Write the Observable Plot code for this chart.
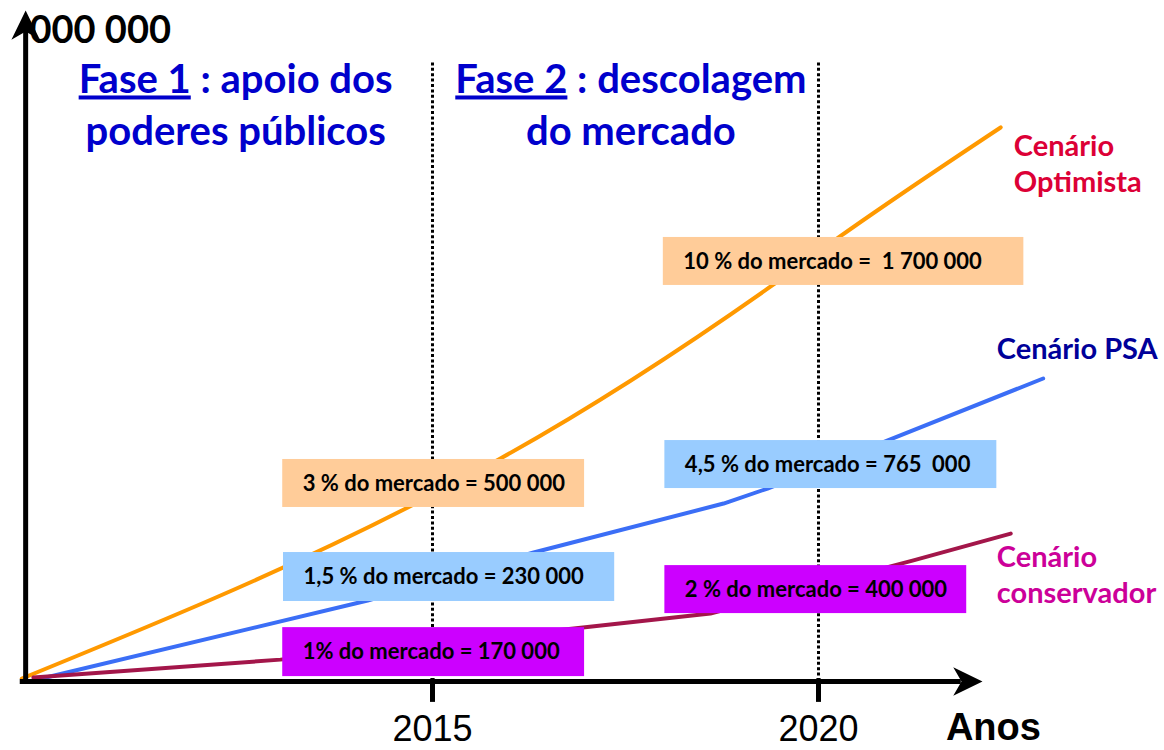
<!DOCTYPE html>
<html><head><meta charset="utf-8">
<script src="https://cdn.jsdelivr.net/npm/d3@7"></script>
<script src="https://cdn.jsdelivr.net/npm/@observablehq/plot@0.6"></script>
<style>body{margin:0;background:#fff} svg text{white-space:pre}</style>
</head><body><div id="chart"></div>
<script>
// ---- data (years, vehicles in thousands) ----
const scenarios = ["Cenário Optimista", "Cenário PSA", "Cenário conservador"];
const lineColors = ["#ff9900", "#3b6ef6", "#a3164a"];
const lineCurves = ["monotone-x", "linear", "linear"];
const optYears = [2009.68, 2014.68, 2015.88, 2019.40, 2020.26, 2022.36];
const optValues = [9, 533, 683, 1213, 1360, 1697];
const psaYears = [2009.83, 2014.16, 2016.31, 2018.77, 2019.34, 2020.89, 2022.91];
const psaValues = [3, 248, 395, 545, 591, 738, 928];
const consYears = [2009.83, 2013.03, 2016.83, 2018.60, 2021.23, 2022.49];
const consValues = [12, 67, 162, 208, 371, 453];

// market-share annotation boxes
const boxTexts = ["3 % do mercado = 500 000", "1,5 % do mercado = 230 000", "1% do mercado = 170 000",
                  "10 % do mercado =  1 700 000", "4,5 % do mercado = 765  000", "2 % do mercado = 400 000"];
const boxFills = ["#ffcc99", "#99ccff", "#cc00ff", "#ffcc99", "#99ccff", "#cc00ff"];
const boxX1 = [2013.06, 2013.07, 2013.06, 2017.99, 2018.01, 2018.01];
const boxX2 = [2016.97, 2017.36, 2016.97, 2022.66, 2022.31, 2021.92];
const boxY1 = [533, 245, 15, 1213, 591, 208];
const boxY2 = [680, 395, 165, 1360, 738, 355];

// phase titles
const titleLines = ["Fase 1 : apoio dos", "poderes públicos", "Fase 2 : descolagem", "do mercado"];
const titleX = [2012.45, 2012.45, 2017.57, 2017.57];
const titleY = [1801, 1642, 1801, 1642];

// scenario labels
const scenLabels = ["Cenário\nOptimista", "Cenário PSA", "Cenário\nconservador"];
const scenLabelColors = ["#dc0036", "#000099", "#cc0099"];
const scenLabelX = [2022.53, 2022.31, 2022.31];
const scenLabelY = [1498, 989, 239];

const xTicks = [2015, 2020];
const yTopLabel = "000 000";
const xTitle = "Anos";

// ---- build tables ----
const series = [[optYears, optValues], [psaYears, psaValues], [consYears, consValues]];
const lineData = series.map(([ys, vs], i) => ys.map((year, j) => ({scenario: scenarios[i], color: lineColors[i], year, value: vs[j]})));
const boxes = boxTexts.map((text, i) => ({text, fill: boxFills[i], x1: boxX1[i], x2: boxX2[i], y1: boxY1[i], y2: boxY2[i], ym: (boxY1[i] + boxY2[i]) / 2}));
const titles = titleLines.map((text, i) => ({text, x: titleX[i], y: titleY[i]}));
const scen = scenLabels.map((text, i) => ({text, color: scenLabelColors[i], x: scenLabelX[i], y: scenLabelY[i]}));

const xAxisStart = 2009.66, xAxisEnd = 2021.85, yAxisX = 2009.73, yAxisTop = 2000;
const arrows = [{x: 2021.93, y: 0, rot: 90}, {x: yAxisX, y: 2009, rot: 0}];

// stealth arrow-head symbol (pointing up)
const stealth = {
  draw(ctx, size) {
    const s = Math.sqrt(size / Math.PI);
    ctx.moveTo(0, -s);
    ctx.lineTo(0.95 * s, 0.95 * s);
    ctx.lineTo(0, 0.4 * s);
    ctx.lineTo(-0.95 * s, 0.95 * s);
    ctx.closePath();
  }
};

const calibri = "Lato, 'Open Sans', sans-serif";
const arial = "'Liberation Sans', Arial, sans-serif";

const chart = Plot.plot({
  width: 1164, height: 750,
  marginTop: 0, marginRight: 0, marginBottom: 0, marginLeft: 0,
  x: {type: "linear", domain: [2015, 2020], range: [432, 818], axis: null},
  y: {type: "linear", domain: [0, 2000], range: [681, 28], axis: null},
  color: {type: "identity"},
  style: {background: "#fff"},
  marks: [
    Plot.text([yTopLabel], {x: 2009.78, y: 1957, text: d => d, textAnchor: "start", lineAnchor: "bottom",
      fontFamily: calibri, fontWeight: "bold", fontSize: 38, fill: "black"}),
    Plot.ruleX(xTicks, {x: d => d, y1: 0, y2: 1896, stroke: "black", strokeWidth: 3, strokeDasharray: "3,2.4"}),
    ...lineData.map((ld, i) => Plot.line(ld, {x: "year", y: "value", stroke: "color", strokeWidth: 4, curve: lineCurves[i]})),
    Plot.rect(boxes, {x1: "x1", x2: "x2", y1: "y1", y2: "y2", fill: "fill"}),
    Plot.text(boxes, {x: "x1", y: "ym", text: "text", dx: 20, textAnchor: "start", lineAnchor: "middle",
      fontFamily: calibri, fontWeight: "bold", fontSize: 22, fill: "black"}),
    Plot.ruleY([0], {x1: xAxisStart, x2: xAxisEnd, stroke: "black", strokeWidth: 5}),
    Plot.ruleX([yAxisX], {y1: -3, y2: yAxisTop, stroke: "black", strokeWidth: 5}),
    Plot.ruleX(xTicks, {x: d => d, y1: -64, y2: 8, stroke: "black", strokeWidth: 5}),
    Plot.dot(arrows, {x: "x", y: "y", rotate: "rot", symbol: stealth, r: 15, fill: "black", stroke: "none"}),
    Plot.text(xTicks, {x: d => d, y: -181, text: d => String(d), textAnchor: "middle", lineAnchor: "bottom",
      fontFamily: arial, fontSize: 36, fill: "black"}),
    Plot.text([xTitle], {x: 2021.65, y: -178, text: d => d, textAnchor: "start", lineAnchor: "bottom",
      fontFamily: arial, fontWeight: "bold", fontSize: 38, fill: "black"}),
    Plot.text(scen, {x: "x", y: "y", text: "text", fill: "color", textAnchor: "start", lineAnchor: "bottom",
      lineHeight: 1.25, fontFamily: calibri, fontWeight: "bold", fontSize: 29}),
    Plot.text(titles, {x: "x", y: "y", text: "text", textAnchor: "middle", lineAnchor: "bottom",
      fontFamily: calibri, fontWeight: "bold", fontSize: 40, fill: "#0000cc"})
  ]
});

// underline "Fase 1" / "Fase 2"
d3.select(chart).selectAll("text").each(function () {
  const t = this.textContent;
  const m = /^(Fase \d)( : .*)$/.exec(t);
  if (m && this.children.length === 0) {
    this.textContent = "";
    const a = document.createElementNS("http://www.w3.org/2000/svg", "tspan");
    a.textContent = m[1];
    a.setAttribute("text-decoration", "underline");
    a.style.textDecoration = "underline";
    const b = document.createElementNS("http://www.w3.org/2000/svg", "tspan");
    b.textContent = m[2];
    this.appendChild(a); this.appendChild(b);
  }
});

document.getElementById("chart").appendChild(chart);
</script>
</body></html>
